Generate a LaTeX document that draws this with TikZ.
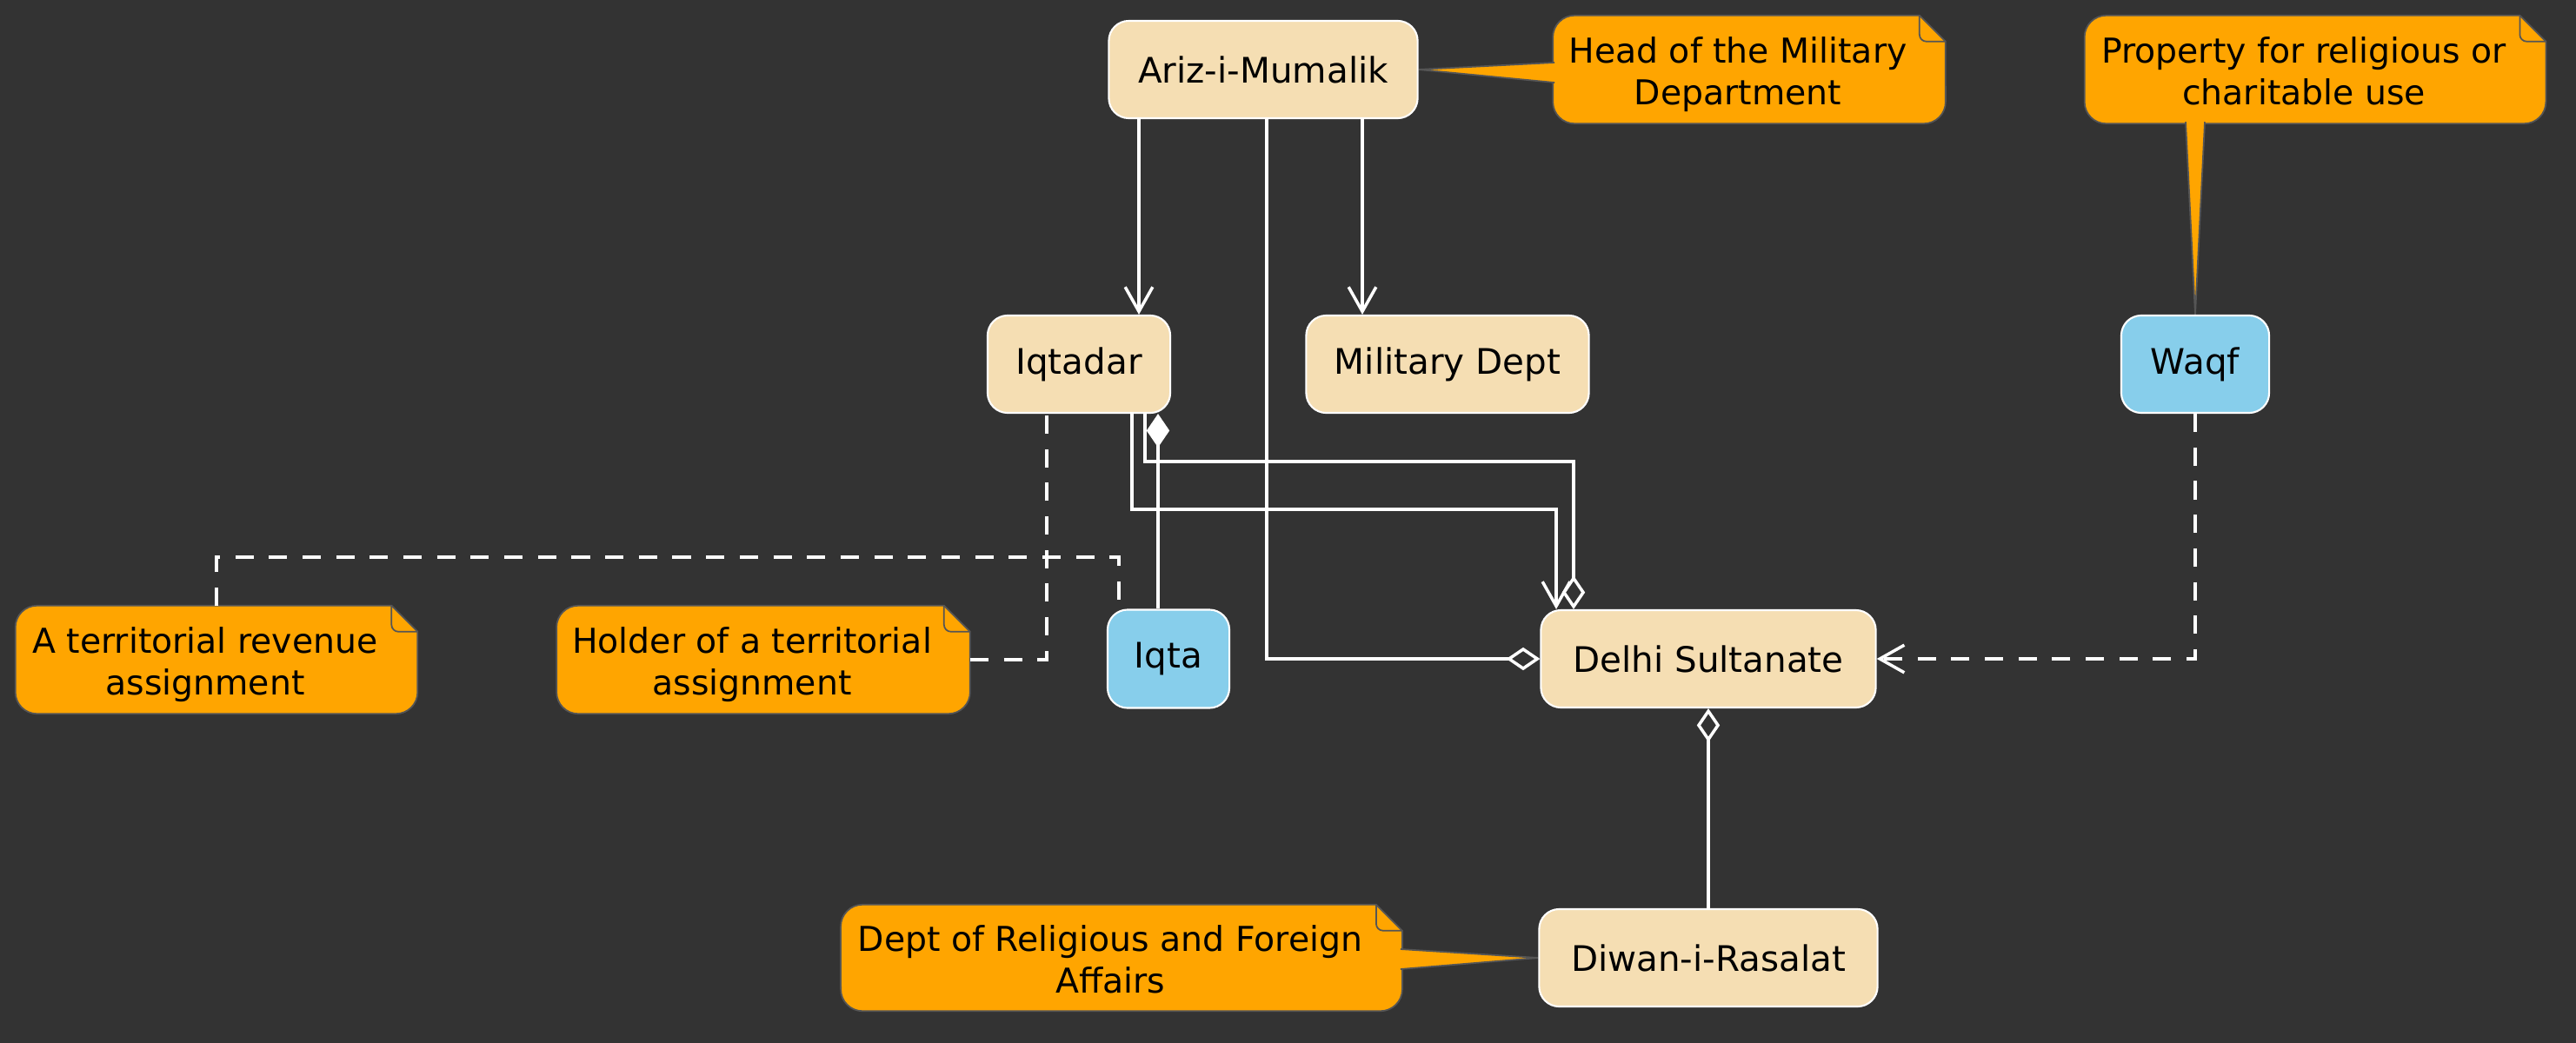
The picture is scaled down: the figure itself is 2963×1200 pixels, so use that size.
\documentclass[tikz,border=0pt]{standalone}
\usepackage{fontspec}
\setmainfont{DejaVu Sans}
\usetikzlibrary{positioning,arrows.meta,calc}
\definecolor{bgc}{HTML}{333333}
\definecolor{wheatc}{HTML}{F5DEB3}
\definecolor{skyc}{HTML}{87CEEB}
\definecolor{notec}{HTML}{FFA500}
\definecolor{noteedge}{HTML}{555555}
\pgfdeclarelayer{back}
\pgfdeclarelayer{notes}
\pgfsetlayers{back,notes,main}
\tikzset{
  barb/.tip={Straight Barb[length=8pt,width=9pt,line width=1pt]},
  agg/.tip={Diamond[open,length=11pt,width=7.5pt,line width=1pt]},
  comp/.tip={Diamond[length=11pt,width=7.5pt]},
  entity/.style={draw=white,line width=0.6pt,fill=wheatc,rounded corners=0.23cm,
    minimum height=1.12cm,font=\fontsize{11.5}{14}\selectfont,text=black},
  kind/.style={entity,fill=skyc},
  notebox/.style={minimum height=1.23cm,inner sep=0pt,
    font=\fontsize{11.2}{13.5}\selectfont,text=black},
  notebg/.style={fill=notec,draw=noteedge,line width=0.5pt},
  link/.style={draw=white,line width=1pt},
  dep/.style={link,dash pattern=on 6pt off 5pt}
}
\newcommand{\notetext}[1]{\raisebox{-0.07cm}[\height][\depth]{\begin{tabular}{@{}c@{}}#1\end{tabular}}\rule{0.26cm}{0pt}}
\newcommand{\notebody}[1]{%
  \path[notebg] ($(#1.north east)+(-30,0)$) -- ($(#1.north west)+(25,0)$)
    arc[start angle=90,end angle=180,radius=0.25cm] -- ($(#1.south west)+(0,-25)$)
    arc[start angle=180,end angle=270,radius=0.25cm] -- ($(#1.south east)+(-25,0)$)
    arc[start angle=270,end angle=360,radius=0.25cm] -- ($(#1.north east)+(0,30)$) -- cycle;
  \draw[noteedge,line width=0.5pt] ($(#1.north east)+(-30,0)$) -- ($(#1.north east)+(-30,22)$)
    arc[start angle=180,end angle=270,radius=0.08cm] -- ($(#1.north east)+(0,30)$);}
\newcommand{\notetail}[3]{%
  \fill[notec] (#1) -- (#2) -- (#3) -- cycle;
  \draw[noteedge,line width=0.5pt] (#1) -- (#2) -- (#3);}

\begin{document}
\begin{tikzpicture}[x=0.01cm,y=-0.01cm]
\begin{pgfonlayer}{back}
\fill[bgc] (0,0) rectangle (2963,1200);
\end{pgfonlayer}
\useasboundingbox (0,0) rectangle (2963,1200);

\node[entity,minimum width=3.55cm] (ariz) at (1453,80) {Ariz-i-Mumalik};
\node[entity,minimum width=2.10cm] (iqtadar) at (1241,419) {Iqtadar};
\node[entity,minimum width=3.25cm] (mil) at (1665,419) {Military Dept};
\node[kind,minimum width=1.70cm] (waqf) at (2525,419) {Waqf};
\node[kind,minimum width=1.40cm,minimum height=1.13cm] (iqta) at (1344,758) {Iqta};
\node[entity,minimum width=3.85cm] (delhi) at (1965,758) {Delhi Sultanate};
\node[entity,minimum width=3.89cm] (diwan) at (1965,1102) {Diwan-i-Rasalat};

\node[notebox,minimum width=4.50cm] (headnote) at (2012,80) {\notetext{Head of the Military\\Department}};
\node[notebox,minimum width=5.29cm] (propnote) at (2663,80) {\notetext{Property for religious or\\charitable use}};
\node[notebox,minimum width=4.61cm] (terrnote) at (249,759) {\notetext{A territorial revenue\\assignment}};
\node[notebox,minimum width=4.74cm] (holdnote) at (878,759) {\notetext{Holder of a territorial\\assignment}};
\node[notebox,minimum width=6.44cm,minimum height=1.21cm] (deptnote) at (1290,1102) {\notetext{Dept of Religious and Foreign\\Affairs}};

\begin{pgfonlayer}{notes}
\notebody{headnote}
\notebody{propnote}
\notebody{terrnote}
\notebody{holdnote}
\notebody{deptnote}
\notetail{$(headnote.west)+(2,-8)$}{ariz.east}{$(headnote.west)+(2,15)$}
\notetail{$(waqf.north|-propnote.south)+(-11,-2)$}{waqf.north}{$(waqf.north|-propnote.south)+(11,-2)$}
\notetail{$(deptnote.east)+(-2,-10)$}{diwan.west}{$(deptnote.east)+(-2,13)$}
\end{pgfonlayer}

\coordinate (k1) at (1310,0);
\coordinate (k2) at (1567,0);
\coordinate (k3) at (1457,0);
\coordinate (k4) at (1302,586);
\coordinate (k5) at (1790,586);
\coordinate (k6) at (1317,531);
\coordinate (k7) at (1810,531);
\coordinate (k8) at (1332,0);
\coordinate (k9) at (1204,0);
\coordinate (k10) at (1287,641);

\draw[link,-barb] (ariz.south -| k1) -- (iqtadar.north -| k1);
\draw[link,-barb] (ariz.south -| k2) -- (mil.north -| k2);
\draw[link,-agg] (ariz.south -| k3) |- (delhi.west);
\draw[link,-barb] (iqtadar.south -| k4) -- (k4) -- (k5) -- (delhi.north -| k5);
\draw[link,-agg] (iqtadar.south -| k6) -- (k6) -- (k7) -- (delhi.north -| k7);
\draw[link,-comp] (iqta.north -| k8) -- (iqtadar.south -| k8);
\draw[link,-agg] (diwan.north) -- (delhi.south);
\draw[dep,-barb] (waqf.south) |- (delhi.east);
\draw[dep] (holdnote.east) -| (iqtadar.south -| k9);
\draw[dep] (terrnote.north) |- (k10) -- (iqta.north -| k10);
\end{tikzpicture}
\end{document}
